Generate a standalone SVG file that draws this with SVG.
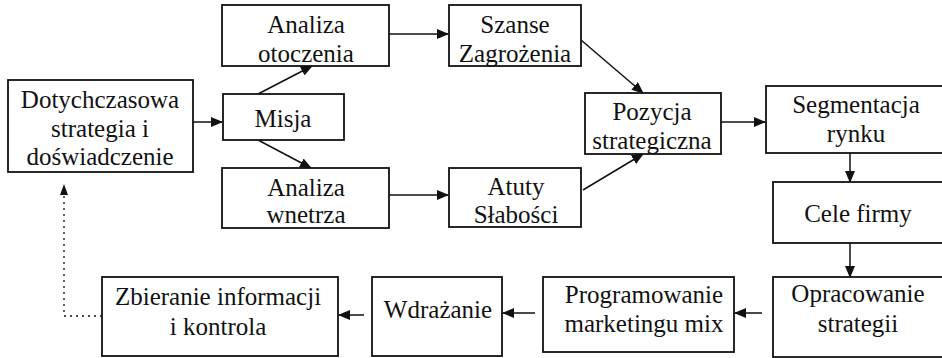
<svg xmlns="http://www.w3.org/2000/svg" width="942" height="358" viewBox="0 0 942 358">
  <style>
    .box { fill: #fff; stroke: #111; stroke-width: 1.8; }
    .lbl { font-family: "Liberation Serif", "Times New Roman", serif; font-size: 25px; fill: #111; text-anchor: middle; }
    .edge { fill: none; stroke: #111; stroke-width: 1.5; }
    .fb { fill: none; stroke: #111; stroke-width: 1.3; stroke-dasharray: 2 4; }
  </style>
  <defs>
    <marker id="arrow" viewBox="0 0 12 10" refX="11" refY="5" markerWidth="12" markerHeight="10" markerUnits="userSpaceOnUse" orient="auto">
      <path d="M0,0 L12,5 L0,10 Z" fill="#111"/>
    </marker>
  </defs>

  <rect width="942" height="358" fill="#fff"/>

  <!-- connectors -->
  <g id="connectors">
    <line class="edge" x1="193" y1="122" x2="222" y2="122" marker-end="url(#arrow)"/>
    <line class="edge" x1="258" y1="94" x2="312" y2="66" marker-end="url(#arrow)"/>
    <line class="edge" x1="258" y1="140" x2="311" y2="168" marker-end="url(#arrow)"/>
    <line class="edge" x1="389" y1="34" x2="448" y2="34" marker-end="url(#arrow)"/>
    <line class="edge" x1="389" y1="195" x2="448" y2="195" marker-end="url(#arrow)"/>
    <line class="edge" x1="581" y1="40" x2="643" y2="93" marker-end="url(#arrow)"/>
    <line class="edge" x1="583" y1="190" x2="643" y2="154" marker-end="url(#arrow)"/>
    <line class="edge" x1="721" y1="122" x2="765" y2="122" marker-end="url(#arrow)"/>
    <line class="edge" x1="850" y1="145" x2="850" y2="182" marker-end="url(#arrow)"/>
    <line class="edge" x1="850" y1="243" x2="850" y2="277" marker-end="url(#arrow)"/>
    <line class="edge" x1="762" y1="313" x2="735" y2="313" marker-end="url(#arrow)"/>
    <line class="edge" x1="535" y1="313" x2="503" y2="313" marker-end="url(#arrow)"/>
    <line class="edge" x1="364" y1="315" x2="339" y2="315" marker-end="url(#arrow)"/>
    <path class="fb" d="M102,316 H64 V195"/>
    <path d="M64,184 L68,195 L60,195 Z" fill="#111"/>
  </g>

  <!-- nodes -->
  <g id="node-dotychczasowa">
    <rect class="box" x="8" y="80" width="185" height="92"/>
    <text class="lbl" x="100" y="108">Dotychczasowa</text>
    <text class="lbl" x="100" y="137">strategia i</text>
    <text class="lbl" x="100" y="165">doświadczenie</text>
  </g>

  <g id="node-misja">
    <rect class="box" x="223" y="94" width="121" height="46"/>
    <text class="lbl" x="283" y="127">Misja</text>
  </g>

  <g id="node-analiza-otoczenia">
    <rect class="box" x="222" y="5" width="167" height="61"/>
    <text class="lbl" x="306" y="33">Analiza</text>
    <text class="lbl" x="306" y="62">otoczenia</text>
  </g>

  <g id="node-szanse">
    <rect class="box" x="449" y="5" width="132" height="61"/>
    <text class="lbl" x="515" y="33">Szanse</text>
    <text class="lbl" x="515" y="62">Zagrożenia</text>
  </g>

  <g id="node-analiza-wnetrza">
    <rect class="box" x="222" y="168" width="167" height="60"/>
    <text class="lbl" x="306" y="196">Analiza</text>
    <text class="lbl" x="306" y="223">wnetrza</text>
  </g>

  <g id="node-atuty">
    <rect class="box" x="449" y="168" width="132" height="59"/>
    <text class="lbl" x="516" y="195">Atuty</text>
    <text class="lbl" x="516" y="223">Słabości</text>
  </g>

  <g id="node-pozycja">
    <rect class="box" x="585" y="93" width="136" height="61"/>
    <text class="lbl" x="652" y="120">Pozycja</text>
    <text class="lbl" x="652" y="149">strategiczna</text>
  </g>

  <g id="node-segmentacja">
    <rect class="box" x="766" y="86" width="182" height="67"/>
    <text class="lbl" x="856" y="113">Segmentacja</text>
    <text class="lbl" x="856" y="142">rynku</text>
  </g>

  <g id="node-cele">
    <rect class="box" x="773" y="182" width="174" height="61"/>
    <text class="lbl" x="858" y="222">Cele firmy</text>
  </g>

  <g id="node-opracowanie">
    <rect class="box" x="773" y="277" width="174" height="80"/>
    <text class="lbl" x="858" y="302">Opracowanie</text>
    <text class="lbl" x="858" y="332">strategii</text>
  </g>

  <g id="node-programowanie">
    <rect class="box" x="543" y="277" width="191" height="75"/>
    <text class="lbl" x="644" y="303">Programowanie</text>
    <text class="lbl" x="644" y="332">marketingu mix</text>
  </g>

  <g id="node-wdrazanie">
    <rect class="box" x="372" y="277" width="130" height="79"/>
    <text class="lbl" x="438" y="318">Wdrażanie</text>
  </g>

  <g id="node-zbieranie">
    <rect class="box" x="102" y="277" width="236" height="79"/>
    <text class="lbl" x="218" y="305">Zbieranie informacji</text>
    <text class="lbl" x="218" y="335">i kontrola</text>
  </g>
</svg>
